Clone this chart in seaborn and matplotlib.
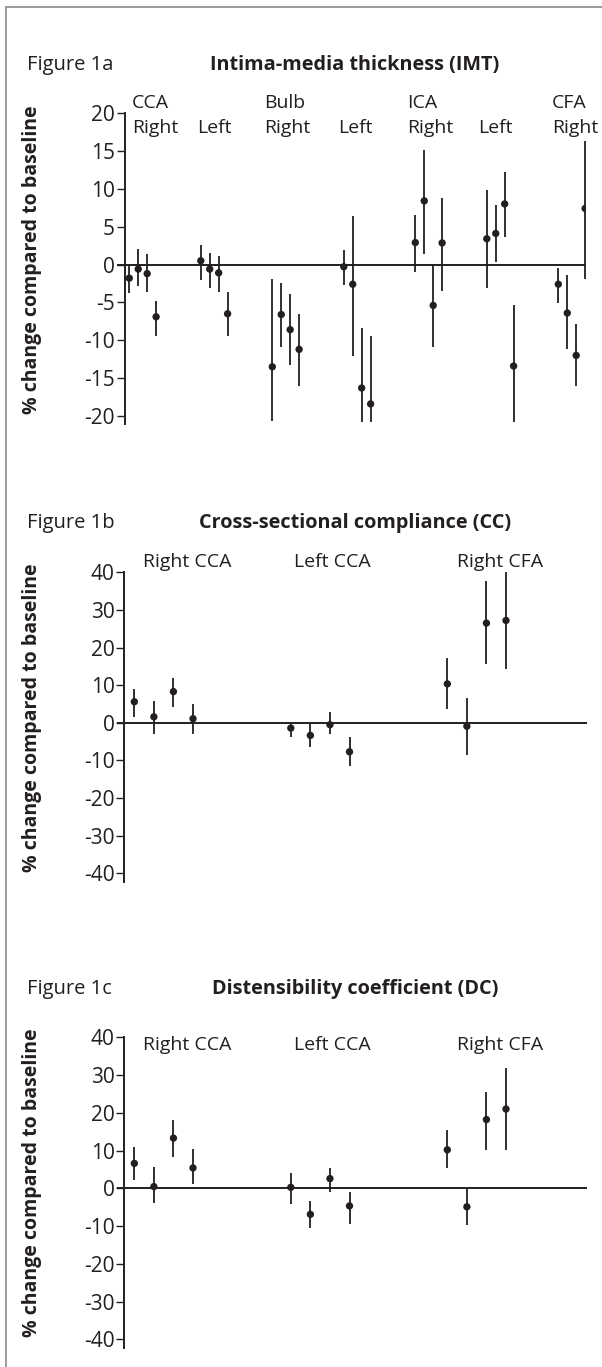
import pandas as pd
import matplotlib
matplotlib.use('Agg')
import matplotlib.pyplot as plt
import seaborn as sns
from matplotlib.lines import Line2D

# Data (% change compared to baseline)
imt_groups = ['CCA Right', 'CCA Left', 'Bulb Right', 'Bulb Left',
              'ICA Right', 'ICA Left', 'CFA Right']
imt_mean = [-1.8, -0.6, -1.2, -6.9, 0.5, -0.6, -1.1, -6.5,
            -13.5, -6.6, -8.6, -11.2, -0.3, -2.6, -16.3, -18.4,
            2.9, 8.4, -5.4, 2.85, 3.4, 4.1, 8.0, -13.4,
            -2.6, -6.4, -12.0, 7.4]
imt_low = [-3.7, -2.9, -3.6, -9.4, -2.0, -3.1, -3.6, -9.5,
           -20.7, -10.9, -13.2, -16.0, -2.7, -12.1, -20.8, -20.8,
           -1.05, 1.45, -10.9, -3.5, -3.1, 0.35, 3.6, -20.8,
           -5.1, -11.1, -16.1, -1.85]
imt_high = [0.0, 2.0, 1.35, -4.8, 2.6, 1.5, 1.1, -3.6,
            -1.85, -2.5, -3.9, -6.5, 1.9, 6.45, -8.4, -9.4,
            6.6, 15.1, -0.1, 8.8, 9.9, 7.9, 12.2, -5.3,
            -0.5, -1.4, -7.8, 16.3]

cc_groups = ['Right CCA', 'Left CCA', 'Right CFA']
cc_mean = [5.6, 1.6, 8.3, 1.1, -1.4, -3.35, -0.5, -7.7, 10.35, -0.9, 26.5, 27.2]
cc_low = [1.6, -3.0, 4.25, -3.0, -3.7, -6.45, -3.1, -11.4, 3.6, -8.5, 15.5, 14.4]
cc_high = [9.1, 5.75, 11.9, 5.1, -0.4, -0.2, 2.75, -3.7, 17.2, 6.55, 37.6, 40.0]

dc_groups = ['Right CCA', 'Left CCA', 'Right CFA']
dc_mean = [6.6, 0.45, 13.3, 5.4, 0.26, -6.9, 2.57, -4.66, 10.2, -4.9, 18.2, 21.0]
dc_low = [2.2, -4.0, 8.2, 1.15, -4.1, -10.5, -1.05, -9.4, 5.3, -9.7, 10.2, 10.2]
dc_high = [10.85, 5.55, 18.1, 10.3, 4.0, -3.3, 5.5, -0.9, 15.4, 0.0, 25.6, 31.85]

imt_ticks = [20, 15, 10, 5, 0, -5, -10, -15, -20]
cc_ticks = [40, 30, 20, 10, 0, -10, -20, -30, -40]

INK = '#231f20'
W, H = 602, 1367


def make_frame(groups, mean, low, high):
    '''One row per measurement, x = group index + offset inside group.'''
    rows = []
    for i, (m, lo, hi) in enumerate(zip(mean, low, high)):
        g, k = divmod(i, 4)
        rows.append({'group': groups[g], 'x': g + 0.125 * k,
                     'mean': m, 'low': lo, 'high': hi})
    return pd.DataFrame(rows)


def fx(px):
    return px / W


def fy(py):
    return 1 - py / H


def draw_panel(fig, rect, df, xlim, ylim, ticks, zero_start):
    ax = fig.add_axes(rect)
    ax.vlines(df['x'], df['low'], df['high'], color=INK, lw=1.3, zorder=2)
    sns.scatterplot(data=df, x='x', y='mean', ax=ax, color=INK, s=28,
                    edgecolor='none', zorder=3, legend=False)
    ax.hlines(0, zero_start, xlim[1], color=INK, lw=1.4, clip_on=False,
              zorder=1)
    ax.set_xlim(*xlim)
    ax.set_ylim(*ylim)
    ax.set_yticks(ticks)
    ax.set_yticklabels([str(t) for t in ticks])
    ax.set_xticks([])
    ax.set_xlabel('')
    ax.set_ylabel('')
    for side in ['top', 'right', 'bottom']:
        ax.spines[side].set_visible(False)
    ax.spines['left'].set_color(INK)
    ax.spines['left'].set_linewidth(1.4)
    ax.tick_params(axis='y', direction='out', length=5.5, width=1.0,
                   color=INK, labelcolor=INK, labelsize=15, pad=1.5,
                   left=True)
    ax.patch.set_alpha(0)
    return ax


if __name__ == '__main__':
    sns.set_theme(style='white')
    plt.rcParams['font.family'] = ['Open Sans', 'DejaVu Sans']
    plt.rcParams['axes.unicode_minus'] = False

    imt = make_frame(imt_groups, imt_mean, imt_low, imt_high)
    cc = make_frame(cc_groups, cc_mean, cc_low, cc_high)
    dc = make_frame(dc_groups, dc_mean, dc_low, dc_high)

    fig = plt.figure(figsize=(W / 100, H / 100), dpi=100)

    # Outer frame (top and left edges only)
    fig.add_artist(Line2D([fx(6), 1], [fy(7), fy(7)], color='#8a8a8a', lw=1.2))
    fig.add_artist(Line2D([fx(6), fx(6)], [fy(7), 0], color='#8a8a8a', lw=1.2))

    # Figure 1a
    draw_panel(fig, [fx(124.5), fy(424), 461.7 / W, 311 / H], imt,
               (-0.067, 6.39), (-21.05, 20), imt_ticks, -0.175)
    # Figure 1b
    draw_panel(fig, [fx(124.3), fy(882), 462.3 / W, 309.7 / H], cc,
               (-0.064, 2.89), (-42.3, 40), cc_ticks, -0.113)
    # Figure 1c
    draw_panel(fig, [fx(124.3), fy(1348), 462.3 / W, 310.7 / H], dc,
               (-0.064, 2.89), (-42.3, 40), cc_ticks, -0.113)

    # Headings
    heads = [('Figure 1a', 'Intima-media thickness (IMT)', 65),
             ('Figure 1b', 'Cross-sectional compliance (CC)', 523),
             ('Figure 1c', 'Distensibility coefficient (DC)', 989)]
    for fig_lab, title, y in heads:
        fig.text(fx(27), fy(y), fig_lab, fontsize=14.5, color=INK,
                 ha='left', va='center')
        fig.text(fx(355), fy(y), title, fontsize=14.3, fontweight='bold',
                 color=INK, ha='center', va='center')

    # Group labels, panel a
    top_lab = [('CCA', 132), ('Bulb', 264), ('ICA', 407), ('CFA', 552)]
    for txt, x in top_lab:
        fig.text(fx(x), fy(103), txt, fontsize=14, color=INK,
                 ha='left', va='center')
    side_lab = [('Right', 132), ('Left', 197), ('Right', 264), ('Left', 338),
                ('Right', 407), ('Left', 478), ('Right', 552)]
    for txt, x in side_lab:
        fig.text(fx(x), fy(128), txt, fontsize=14, color=INK,
                 ha='left', va='center')

    # Group labels, panels b and c
    for y in [561.7, 1045]:
        for txt, x in zip(cc_groups, [142.7, 294, 457]):
            fig.text(fx(x), fy(y), txt, fontsize=14, color=INK,
                     ha='left', va='center')

    # Y labels
    for yc in [260, 717.5, 1182.5]:
        fig.text(fx(32), fy(yc), '% change compared to baseline',
                 fontsize=14, fontweight='bold', color=INK, rotation=90,
                 ha='center', va='center')

    fig.savefig('out.png', dpi=100, facecolor='white')
